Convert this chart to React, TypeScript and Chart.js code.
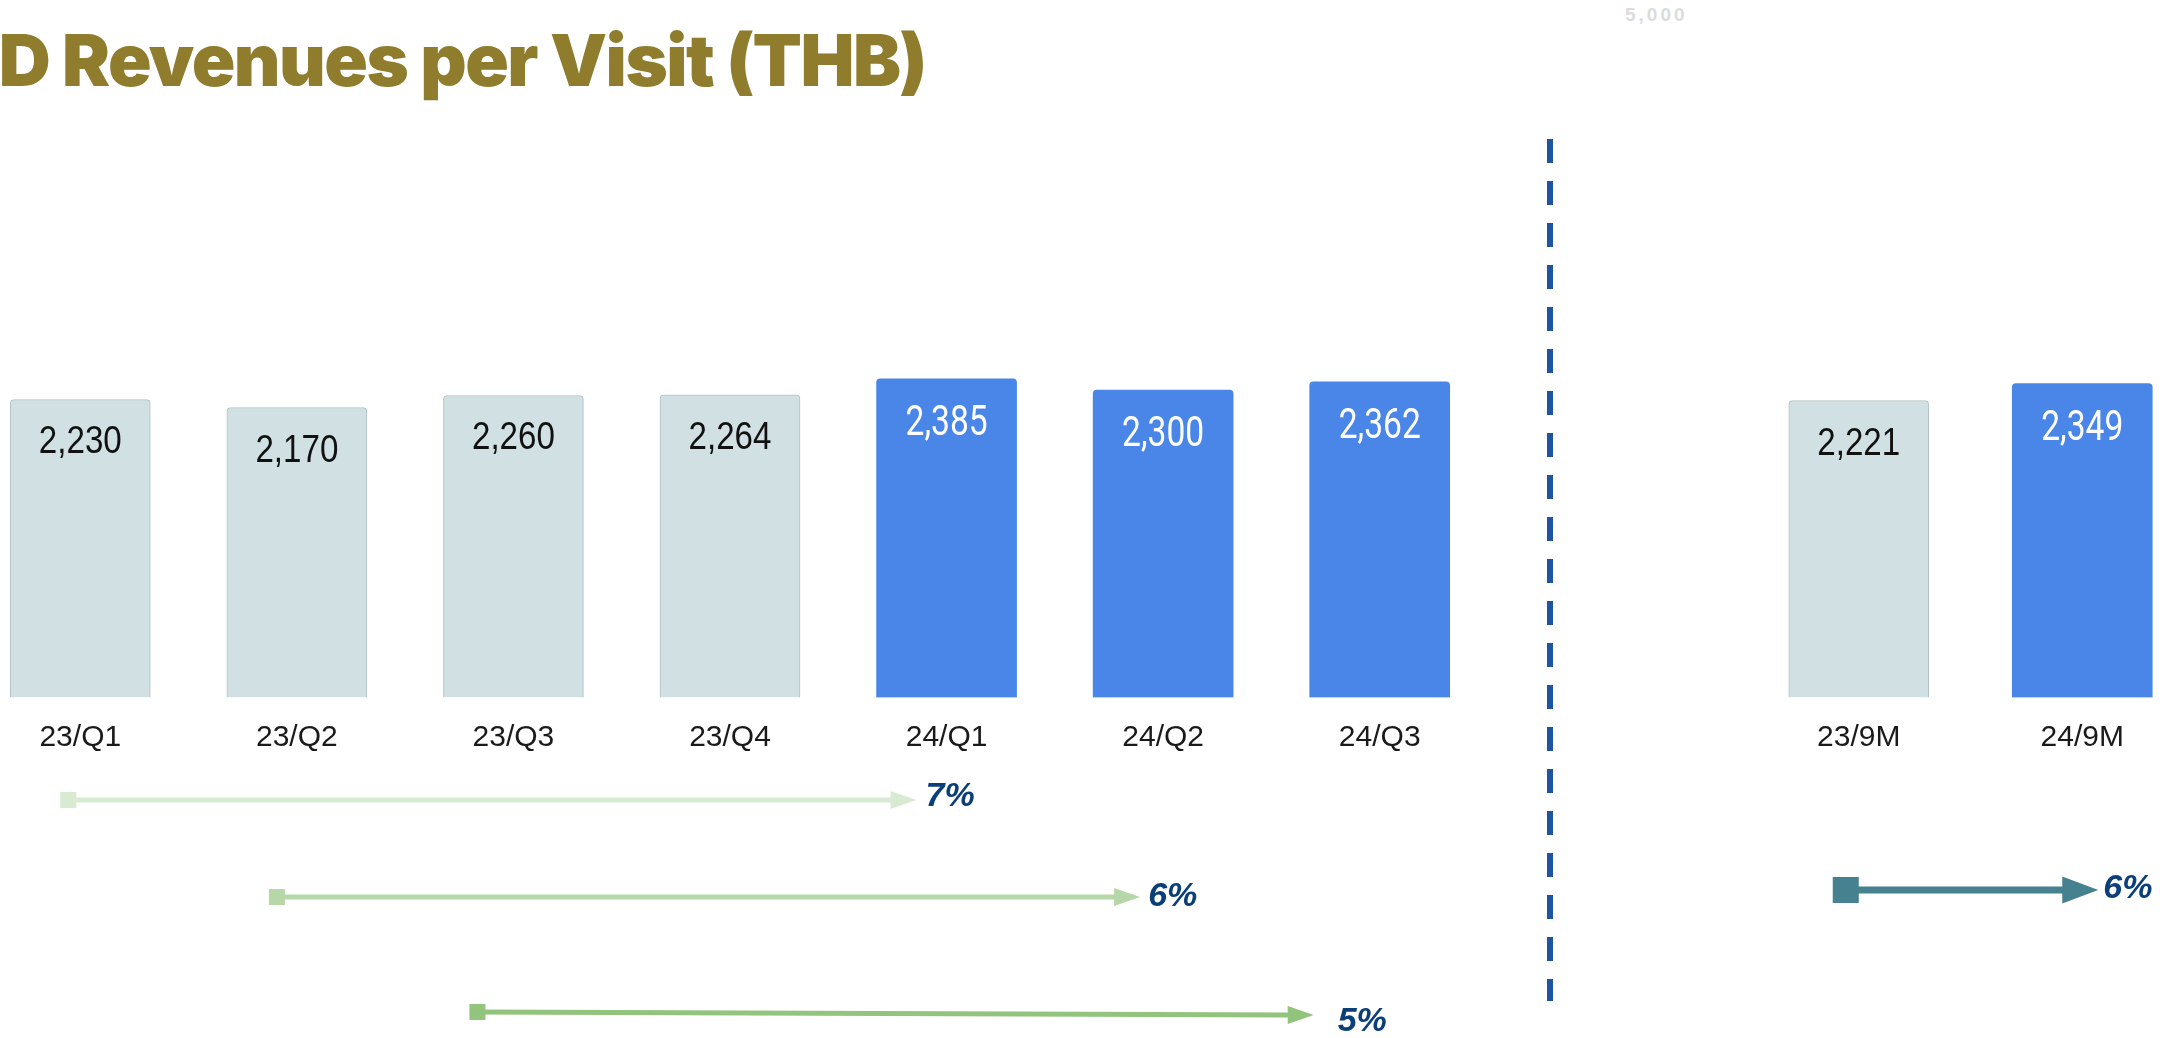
import React, { useEffect, useRef } from 'react';
import { Chart, registerables } from 'chart.js';

Chart.register(...registerables);

// ---------- data ----------
const quarterLabels = ['23/Q1', '23/Q2', '23/Q3', '23/Q4', '24/Q1', '24/Q2', '24/Q3'];
const quarterValues = [2230, 2170, 2260, 2264, 2385, 2300, 2362];
const ytdLabels = ['23/9M', '24/9M'];
const ytdValues = [2221, 2349];
const growthFrom = ['23/Q1', '23/Q2', '23/Q3'];
const growthTo = ['24/Q1', '24/Q2', '24/Q3'];
const growthText = ['7%', '6%', '5%'];
const ytdGrowthFrom = ['23/9M'];
const ytdGrowthTo = ['24/9M'];
const ytdGrowthText = ['6%'];
const Y_MAX = 3000;
const TITLE = 'OPD Revenues per Visit (THB)';

// ---------- styles ----------
const GRAY = '#D0E0E3';
const GRAY_BORDER = '#B4C1C4';
const BLUE = '#4A86E8';
const PCT_COLOR = '#0B3F7A';
const CANVAS_H = 1038;
const AXIS_H = 80;
const PAD_TOP = 296.6;
const PAD_BOTTOM = CANVAS_H - 697.5 - AXIS_H;

const quarterArrowStyles = [
  { color: '#D9EAD3', y0: 800, y1: 800, dx0: -12, dx1: -30, lw: 5, sq: 16, hl: 26, hw: 18, tdx: 9, tdy: -3 },
  { color: '#B6D7A8', y0: 897, y1: 897, dx0: -20, dx1: -23, lw: 5, sq: 16, hl: 26, hw: 18, tdx: 8, tdy: 0 },
  { color: '#93C47D', y0: 1012, y1: 1015, dx0: -36, dx1: -66, lw: 5, sq: 16, hl: 26, hw: 18, tdx: 24, tdy: 7 },
];
const ytdArrowStyles = [
  { color: '#45818E', y0: 890, y1: 890, dx0: -13, dx1: 16, lw: 7, sq: 26, hl: 36, hw: 27, tdx: 5, tdy: -1 },
];
const DIVIDER = { x: 50, y0: 139, y1: 1001, w: 6, dash: [24, 18], color: '#1D55A0' };

const isCurrent = (label: string) => label.startsWith('24');

const valueLabelPlugin = {
  id: 'valueLabels',
  afterDatasetsDraw(chart: any) {
    const ctx = chart.ctx;
    const meta = chart.getDatasetMeta(0);
    meta.data.forEach((bar: any, i: number) => {
      const label = chart.data.labels[i] as string;
      const v = chart.data.datasets[0].data[i] as number;
      const cur = isCurrent(label);
      ctx.save();
      ctx.translate(bar.x, bar.y + (cur ? 56 : 54));
      ctx.scale(cur ? 0.8 : 0.85, 1);
      ctx.font = cur ? '42px Roboto' : '39px "Liberation Sans", Arial, sans-serif';
      ctx.fillStyle = cur ? '#FFFFFF' : '#111111';
      ctx.textAlign = 'center';
      ctx.textBaseline = 'alphabetic';
      ctx.fillText(v.toLocaleString('en-US'), 0, 0);
      ctx.restore();
    });
  },
};

function drawArrow(ctx: CanvasRenderingContext2D, x0: number, x1: number, st: any, text: string) {
  const { y0, y1, lw, sq, hl, hw, color } = st;
  ctx.save();
  ctx.fillStyle = color;
  ctx.strokeStyle = color;
  ctx.fillRect(x0 - sq / 2, y0 - sq / 2, sq, sq);
  ctx.lineWidth = lw;
  ctx.beginPath();
  ctx.moveTo(x0, y0);
  ctx.lineTo(x1 - hl + 1, y1);
  ctx.stroke();
  ctx.beginPath();
  ctx.moveTo(x1, y1);
  ctx.lineTo(x1 - hl, y1 - hw / 2);
  ctx.lineTo(x1 - hl, y1 + hw / 2);
  ctx.closePath();
  ctx.fill();
  ctx.font = 'italic bold 34px "Liberation Sans", Arial, sans-serif';
  ctx.fillStyle = PCT_COLOR;
  ctx.textAlign = 'left';
  ctx.textBaseline = 'middle';
  ctx.fillText(text, x1 + st.tdx, y1 + st.tdy);
  ctx.restore();
}

function makeArrowPlugin(from: string[], to: string[], texts: string[], styles: any[], divider: boolean) {
  return {
    id: 'growthArrows',
    afterDraw(chart: any) {
      const ctx = chart.ctx;
      const xs = chart.scales.x;
      const labels = chart.data.labels as string[];
      if (divider) {
        ctx.save();
        ctx.strokeStyle = DIVIDER.color;
        ctx.lineWidth = DIVIDER.w;
        ctx.setLineDash(DIVIDER.dash);
        ctx.beginPath();
        ctx.moveTo(DIVIDER.x, DIVIDER.y0);
        ctx.lineTo(DIVIDER.x, DIVIDER.y1);
        ctx.stroke();
        ctx.restore();
      }
      from.forEach((f, i) => {
        const st = styles[i];
        const x0 = xs.getPixelForValue(labels.indexOf(f)) + st.dx0;
        const x1 = xs.getPixelForValue(labels.indexOf(to[i])) + st.dx1;
        drawArrow(ctx, x0, x1, st, texts[i]);
      });
    },
  };
}

function makeConfig(labels: string[], values: number[], padLeft: number, plugins: any[]) {
  return {
    type: 'bar' as const,
    data: {
      labels,
      datasets: [
        {
          data: values,
          backgroundColor: labels.map((l) => (isCurrent(l) ? BLUE : GRAY)),
          borderColor: labels.map((l) => (isCurrent(l) ? BLUE : GRAY_BORDER)),
          borderWidth: labels.map((l) => (isCurrent(l) ? 0 : 1)),
          borderRadius: { topLeft: 4, topRight: 4, bottomLeft: 0, bottomRight: 0 },
          borderSkipped: 'bottom' as const,
          barThickness: 140,
        },
      ],
    },
    options: {
      responsive: false,
      animation: false as const,
      events: [] as any[],
      layout: { padding: { top: PAD_TOP, bottom: PAD_BOTTOM, left: padLeft, right: 0 } },
      plugins: { legend: { display: false }, tooltip: { enabled: false }, title: { display: false } },
      scales: {
        x: {
          grid: { display: false, drawTicks: false },
          border: { display: false },
          ticks: {
            color: '#1a1a1a',
            font: { family: '"Liberation Sans", Arial, sans-serif', size: 30 },
            padding: 22,
            maxRotation: 0,
            autoSkip: false,
          },
          afterFit: (s: any) => {
            s.height = AXIS_H;
          },
        },
        y: { display: false, min: 0, max: Y_MAX },
      },
    },
    plugins,
  };
}

export default function App() {
  const leftRef = useRef<HTMLCanvasElement>(null);
  const rightRef = useRef<HTMLCanvasElement>(null);

  useEffect(() => {
    const left = new Chart(
      leftRef.current as HTMLCanvasElement,
      makeConfig(quarterLabels, quarterValues, 0, [
        valueLabelPlugin,
        makeArrowPlugin(growthFrom, growthTo, growthText, quarterArrowStyles, false),
      ]) as any
    );
    const right = new Chart(
      rightRef.current as HTMLCanvasElement,
      makeConfig(ytdLabels, ytdValues, 247, [
        valueLabelPlugin,
        makeArrowPlugin(ytdGrowthFrom, ytdGrowthTo, ytdGrowthText, ytdArrowStyles, true),
      ]) as any
    );
    return () => {
      left.destroy();
      right.destroy();
    };
  }, []);

  return (
    <div
      style={{
        position: 'absolute',
        left: 0,
        top: 0,
        width: 2174,
        height: 1038,
        overflow: 'hidden',
        background: '#ffffff',
      }}
    >
      <div
        style={{
          position: 'absolute',
          right: 1248,
          top: 24,
          whiteSpace: 'nowrap',
          fontFamily: 'Inter, "Open Sans", sans-serif',
          fontWeight: 900,
          fontSize: 72,
          lineHeight: '72px',
          color: '#8F7C2C',
          letterSpacing: -1.5,
        }}
      >
        {TITLE}
      </div>
      <div
        style={{
          position: 'absolute',
          left: 1625,
          top: 4,
          fontFamily: '"Liberation Sans", Arial, sans-serif',
          fontWeight: 700,
          fontSize: 19,
          letterSpacing: 3,
          color: '#dcdcdc',
        }}
      >
        5,000
      </div>
      <canvas
        ref={leftRef}
        width={1516}
        height={CANVAS_H}
        style={{ position: 'absolute', left: -28, top: 0, width: 1516, height: CANVAS_H }}
      />
      <canvas
        ref={rightRef}
        width={694}
        height={CANVAS_H}
        style={{ position: 'absolute', left: 1500, top: 0, width: 694, height: CANVAS_H }}
      />
    </div>
  );
}
